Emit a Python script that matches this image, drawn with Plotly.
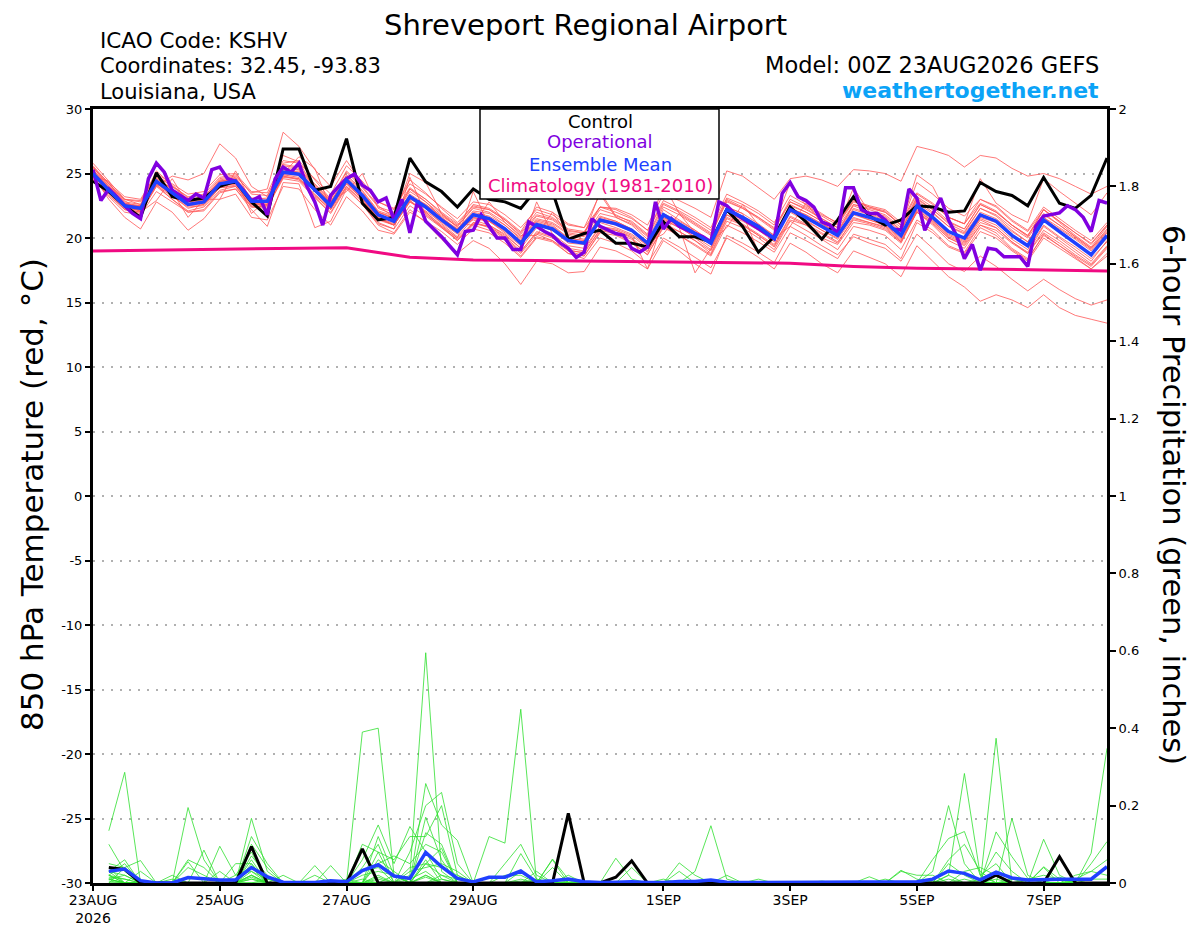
import plotly.graph_objects as go

# ---------------------------------------------------------------------------
# GEFS meteogram, KSHV, run 00Z 23AUG2026
# ---------------------------------------------------------------------------
hours_6h = list(range(0, 385, 6))        # temperature members, control, mean
hours_3h = list(range(0, 385, 3))        # operational run is 3-hourly
precip_hours = list(range(6, 385, 6))    # 6-hour totals start at +6 h
clim_hours = list(range(0, 385, 24))

x_tick_hours = [0, 48, 96, 144, 216, 264, 312, 360]
x_tick_labels = ["23AUG<br>2026", "25AUG", "27AUG", "29AUG", "1SEP", "3SEP", "5SEP", "7SEP"]
temp_ticks = [-30, -25, -20, -15, -10, -5, 0, 5, 10, 15, 20, 25, 30]
temp_tick_labels = ["-30", "-25", "-20", "-15", "-10", "-5", "0", "5", "10", "15", "20", "25", "30"]
precip_ticks = [0, 0.2, 0.4, 0.6, 0.8, 1.0, 1.2, 1.4, 1.6, 1.8, 2.0]
precip_tick_labels = ["0", "0.2", "0.4", "0.6", "0.8", "1", "1.2", "1.4", "1.6", "1.8", "2"]

# 850 hPa temperature (C)
control_temp = [24.4, 23.6, 22.5, 21.6, 25.05, 23.2, 22.9, 23.1, 24.0, 24.4, 22.8, 21.7,
                26.9, 26.9, 23.7, 24.0, 27.7, 22.7, 21.4, 21.6, 26.2, 24.35, 23.6, 22.4,
                23.8, 23.0, 22.8, 22.3, 23.8, 23.6, 19.9, 20.35, 20.6, 19.6, 19.6, 19.3,
                21.25, 20.1, 20.1, 19.7, 22.2, 20.9, 18.9, 20.1, 22.4, 21.25, 19.9, 21.4,
                23.2, 21.7, 21.0, 21.4, 22.5, 22.4, 22.0, 22.1, 24.3, 23.6, 23.3, 22.5,
                24.7, 22.7, 22.3, 23.3, 26.2]
mean_temp = [25.0, 23.7, 22.5, 22.3, 24.4, 23.5, 22.6, 22.8, 24.2, 24.4, 22.85, 22.85,
             25.1, 24.95, 23.7, 22.5, 24.5, 23.3, 21.8, 21.3, 23.2, 22.4, 21.4, 20.5,
             21.8, 21.5, 20.7, 19.6, 21.05, 20.7, 19.8, 19.6, 21.4, 21.1, 20.6, 19.6,
             21.8, 21.1, 20.35, 19.6, 22.2, 21.6, 20.9, 19.96, 22.2, 21.6, 20.9, 20.2,
             21.95, 21.6, 21.25, 20.2, 22.5, 21.6, 20.5, 20.0, 21.8, 21.3, 20.2, 19.4,
             21.4, 20.5, 19.6, 18.7, 20.2]
oper_temp = [25.3, 22.9, 23.8, 23.2, 22.5, 21.9, 21.5, 24.6,
             25.8, 25.1, 23.7, 23.3, 22.9, 23.4, 23.1, 25.3,
             25.5, 24.6, 24.4, 23.7, 22.9, 23.2, 21.8, 24.6,
             25.5, 25.1, 25.8, 24.0, 22.8, 21.0, 23.3, 24.0,
             24.6, 24.95, 24.1, 23.7, 22.8, 23.1, 21.4, 23.0,
             20.4, 22.9, 21.3, 20.7, 20.1, 19.4, 18.7, 20.5,
             20.6, 21.8, 20.9, 20.0, 20.0, 19.1, 19.1, 21.25,
             20.9, 20.5, 20.2, 19.6, 19.2, 18.5, 18.9, 21.5,
             20.9, 20.6, 20.35, 20.2, 19.2, 18.9, 19.3, 22.8,
             20.7, 21.5, 20.9, 20.6, 20.35, 20.1, 19.7, 22.8,
             22.5, 21.9, 21.5, 21.1, 20.7, 20.35, 19.96, 23.45,
             24.3, 23.2, 22.9, 22.4, 21.25, 21.0, 20.35, 23.9,
             23.9, 22.2, 21.9, 21.9, 21.4, 20.7, 20.6, 23.8,
             23.1, 20.6, 21.9, 23.1, 21.4, 20.2, 18.4, 19.5,
             17.5, 19.2, 19.1, 18.55, 18.55, 18.55, 17.8, 20.9,
             21.7, 21.85, 21.95, 22.5, 22.2, 21.6, 20.5, 22.9,
             22.7]
clim_temp = [19.0, 19.05, 19.1, 19.15, 19.25, 18.5, 18.3, 18.25, 18.2,
             18.15, 18.1, 18.05, 17.8, 17.65, 17.6, 17.55, 17.45]

# ensemble members, 850 hPa temperature
t_m01 = [25.6, 24.2, 22.9, 22.0, 24.0, 24.8, 24.5, 25.0, 27.3, 26.2, 24.0, 23.2, 25.8,
         26.0, 24.5, 23.0, 25.2, 24.0, 22.5, 21.6, 23.8, 23.0, 21.9, 20.8, 21.4, 21.0,
         20.2, 19.2, 20.8, 20.2, 19.0, 18.6, 20.5, 20.6, 20.0, 19.0, 21.0, 20.5, 19.8,
         18.8, 21.5, 21.0, 20.2, 19.3, 21.4, 21.0, 20.0, 19.5, 21.2, 21.0, 20.6, 19.6,
         22.0, 21.2, 20.0, 19.4, 21.0, 20.6, 19.6, 18.8, 20.6, 19.8, 18.9, 18.0, 19.4]
t_m02 = [25.2, 24.0, 23.0, 22.8, 24.8, 24.0, 23.0, 23.2, 24.6, 24.8, 23.5, 23.8, 28.2,
         27.1, 25.3, 24.0, 26.0, 24.2, 22.8, 22.2, 24.5, 23.5, 22.3, 21.2, 22.5, 22.2,
         21.4, 20.3, 21.8, 21.5, 20.6, 20.4, 22.2, 21.8, 21.2, 20.2, 22.6, 22.0, 21.2,
         20.4, 23.0, 22.4, 21.6, 20.8, 22.8, 22.2, 21.5, 20.8, 22.6, 22.2, 21.8, 20.8,
         23.2, 22.4, 21.3, 20.7, 22.6, 22.0, 21.0, 20.2, 22.2, 21.3, 20.4, 19.5, 21.0]
t_m03 = [24.8, 23.0, 21.6, 20.7, 22.8, 22.0, 20.6, 21.5, 23.0, 23.4, 21.6, 21.4, 24.0,
         23.8, 22.2, 21.0, 23.2, 22.1, 20.6, 20.3, 22.0, 21.3, 20.5, 19.5, 20.7, 20.4,
         19.6, 18.5, 20.0, 19.7, 18.8, 18.6, 20.4, 20.2, 19.6, 18.7, 20.9, 20.2, 19.5,
         18.7, 21.3, 20.8, 20.0, 19.1, 21.3, 20.6, 19.9, 19.1, 20.9, 20.6, 20.2, 19.1,
         21.4, 20.6, 19.4, 18.9, 20.8, 20.2, 19.1, 18.3, 20.3, 19.4, 18.6, 17.8, 19.2]
t_m04 = [25.3, 24.1, 22.8, 22.6, 24.7, 23.8, 22.9, 23.0, 24.5, 24.7, 23.1, 23.0, 25.6,
         25.4, 24.0, 22.8, 24.9, 23.7, 22.1, 21.7, 23.6, 22.8, 21.8, 20.9, 22.3, 22.0,
         21.2, 20.1, 21.7, 21.4, 20.5, 20.4, 22.4, 22.3, 21.8, 21.0, 23.4, 22.9, 22.3,
         21.6, 25.2, 24.8, 23.9, 23.0, 24.6, 24.8, 24.5, 24.0, 25.3, 25.2, 25.0, 24.4,
         27.1, 26.8, 26.4, 25.5, 26.4, 26.2, 25.4, 24.8, 25.0, 24.6, 24.0, 23.4, 24.0]
t_m05 = [24.9, 23.5, 22.3, 22.0, 24.1, 23.2, 22.4, 22.5, 23.9, 24.1, 22.6, 22.5, 24.7,
         24.6, 23.3, 22.2, 24.0, 22.9, 21.4, 21.0, 22.8, 22.0, 21.0, 20.0, 21.2, 20.8,
         19.9, 18.8, 20.3, 19.8, 18.8, 18.4, 20.0, 19.6, 19.0, 18.0, 20.0, 19.3, 18.5,
         17.7, 20.0, 19.3, 18.5, 17.6, 19.6, 18.9, 18.0, 17.3, 19.0, 18.5, 18.0, 17.0,
         19.4, 18.2, 17.0, 16.2, 15.1, 15.6, 15.2, 14.6, 15.6, 14.6, 14.0, 13.7, 13.4]
t_m06 = [25.1, 23.9, 22.7, 22.4, 24.3, 23.3, 22.3, 22.6, 24.0, 24.2, 22.7, 22.7, 24.8,
         24.6, 23.4, 22.3, 24.2, 23.0, 21.5, 21.0, 22.9, 22.0, 20.9, 19.8, 21.0, 20.6,
         19.8, 18.6, 20.1, 19.8, 19.0, 18.9, 20.6, 20.3, 19.7, 18.7, 20.8, 20.2, 19.4,
         18.6, 21.0, 20.4, 19.7, 18.9, 20.9, 20.2, 19.4, 18.7, 20.1, 19.6, 19.2, 18.2,
         20.3, 19.2, 18.0, 17.4, 18.6, 17.8, 16.8, 15.9, 16.8, 16.0, 15.3, 14.8, 15.2]
t_m07 = [25.5, 24.0, 22.6, 22.4, 24.6, 23.8, 22.9, 23.2, 24.4, 24.6, 23.0, 23.1, 25.3,
         25.1, 23.9, 22.8, 24.8, 23.6, 22.0, 21.5, 23.4, 22.6, 21.6, 20.7, 22.0, 21.7,
         21.0, 19.9, 21.4, 21.1, 20.3, 20.1, 21.9, 21.6, 21.1, 20.1, 22.4, 21.8, 21.0,
         20.2, 22.9, 22.3, 21.6, 20.7, 23.0, 22.4, 21.7, 21.0, 22.8, 22.4, 22.0, 21.0,
         23.4, 22.6, 21.6, 21.1, 24.6, 22.7, 21.8, 21.2, 24.6, 23.6, 22.7, 21.8, 23.5]
t_m08 = [24.7, 23.4, 22.2, 21.9, 24.0, 23.0, 22.0, 22.2, 23.6, 23.8, 22.4, 22.3, 24.8,
         24.5, 23.2, 22.0, 24.0, 22.8, 21.2, 20.7, 24.7, 21.8, 20.9, 20.0, 23.6, 21.0,
         20.3, 19.2, 22.8, 20.3, 19.4, 19.2, 20.9, 20.7, 20.2, 19.2, 21.4, 20.8, 20.1,
         19.3, 21.8, 21.3, 20.6, 19.7, 22.3, 21.8, 21.1, 20.4, 22.6, 22.3, 22.0, 21.0,
         24.3, 23.4, 22.3, 21.7, 23.0, 22.4, 21.3, 20.5, 22.2, 21.3, 20.4, 19.6, 21.0]
t_m09 = [25.0, 23.6, 22.4, 22.1, 24.2, 23.3, 22.5, 22.6, 23.9, 24.0, 22.5, 22.4, 24.6,
         24.4, 23.1, 21.9, 23.9, 22.6, 21.0, 20.4, 22.2, 21.2, 19.9, 18.8, 19.8, 19.2,
         18.0, 16.4, 18.2, 18.0, 17.3, 17.4, 19.3, 19.0, 18.4, 17.6, 19.8, 19.0, 18.0,
         17.2, 20.2, 19.6, 18.9, 18.1, 20.4, 19.8, 19.1, 18.4, 20.3, 19.9, 19.5, 18.4,
         21.2, 20.4, 19.3, 18.8, 20.5, 20.0, 19.0, 18.2, 20.0, 19.2, 18.4, 17.6, 18.8]
t_m10 = [25.4, 24.3, 23.2, 23.0, 25.0, 24.2, 23.4, 23.6, 24.9, 25.0, 23.6, 23.5, 26.0,
         25.8, 24.6, 23.4, 25.6, 24.4, 22.8, 22.3, 24.2, 23.4, 22.4, 21.5, 22.8, 22.6,
         21.8, 20.8, 22.2, 21.8, 21.0, 20.8, 22.4, 22.0, 21.5, 20.6, 22.7, 22.1, 21.4,
         20.6, 23.1, 22.6, 21.9, 21.0, 24.3, 22.5, 21.8, 21.2, 22.9, 22.5, 22.2, 21.2,
         23.5, 22.7, 21.6, 21.1, 23.0, 22.5, 21.4, 20.6, 22.4, 21.5, 20.6, 19.8, 21.2]
t_m11 = [24.6, 23.2, 22.0, 21.8, 23.6, 22.8, 22.0, 22.1, 23.5, 23.8, 22.2, 20.9, 24.3,
         24.2, 20.8, 21.3, 23.8, 22.6, 21.1, 20.7, 22.5, 21.7, 20.8, 19.9, 21.1, 20.9,
         20.1, 19.0, 20.4, 20.0, 19.1, 18.8, 20.7, 20.4, 19.9, 18.9, 21.2, 20.5, 19.8,
         19.0, 21.6, 21.1, 20.3, 19.5, 21.7, 21.1, 20.4, 19.7, 21.4, 21.1, 20.7, 19.7,
         22.0, 21.1, 20.0, 19.5, 21.2, 20.8, 19.7, 18.9, 20.9, 20.0, 19.1, 18.2, 19.8]
t_m12 = [25.8, 24.4, 23.0, 22.6, 25.2, 24.1, 23.1, 23.0, 24.4, 24.5, 22.9, 22.8, 25.1,
         25.2, 24.0, 22.7, 24.6, 23.3, 21.7, 21.2, 23.0, 22.4, 21.5, 20.7, 22.1, 21.9,
         21.0, 20.0, 21.5, 21.2, 20.4, 20.2, 23.6, 21.7, 21.3, 20.3, 24.2, 21.9, 21.1,
         20.3, 22.8, 22.3, 21.5, 20.6, 22.8, 22.3, 21.5, 20.8, 23.9, 22.0, 21.7, 20.6,
         22.9, 22.0, 20.9, 20.4, 22.3, 21.8, 20.8, 20.0, 21.8, 21.0, 20.1, 19.2, 20.6]
t_m13 = [24.5, 23.3, 22.2, 22.0, 22.9, 24.6, 22.6, 23.0, 23.0, 25.2, 22.8, 22.9, 25.4,
         25.3, 24.1, 22.9, 23.6, 25.0, 22.3, 21.8, 23.8, 22.8, 21.6, 20.6, 21.6, 21.3,
         20.4, 19.4, 21.0, 20.6, 19.6, 19.5, 21.2, 20.8, 20.3, 19.4, 21.6, 21.0, 20.3,
         19.5, 22.1, 21.5, 20.8, 19.9, 22.0, 21.3, 20.6, 20.0, 21.8, 21.4, 21.0, 20.0,
         22.3, 21.4, 20.3, 19.8, 21.5, 21.0, 19.9, 19.1, 21.0, 20.1, 19.3, 18.4, 19.7]
t_m14 = [25.2, 23.8, 22.4, 22.1, 24.1, 23.0, 22.1, 22.4, 23.7, 24.0, 22.4, 22.5, 24.9,
         24.7, 23.3, 22.2, 24.3, 23.1, 21.6, 21.1, 23.2, 22.6, 21.7, 20.9, 22.4, 22.2,
         21.4, 20.4, 22.0, 21.6, 20.7, 20.5, 22.4, 22.2, 21.6, 20.6, 22.9, 22.3, 21.6,
         20.8, 23.4, 22.8, 22.1, 21.2, 23.3, 22.6, 21.9, 21.1, 22.9, 22.4, 22.1, 21.0,
         24.9, 24.0, 21.6, 21.1, 22.7, 22.1, 21.0, 20.1, 22.2, 21.2, 20.2, 19.3, 20.9]
t_m15 = [24.8, 24.4, 22.3, 22.2, 24.3, 23.6, 21.6, 23.0, 24.4, 24.6, 21.9, 23.0, 25.3,
         25.0, 23.6, 22.3, 24.4, 23.1, 21.6, 21.0, 22.9, 21.9, 20.8, 19.8, 21.2, 20.9,
         20.0, 18.9, 20.5, 20.1, 19.2, 19.0, 20.9, 20.6, 20.1, 17.6, 21.5, 20.8, 17.3,
         19.2, 22.0, 21.4, 20.7, 19.8, 22.1, 21.4, 20.6, 19.9, 21.6, 21.2, 20.8, 19.7,
         22.2, 21.3, 20.1, 19.6, 21.4, 20.8, 19.7, 18.8, 20.4, 19.6, 18.7, 17.9, 19.3]
t_m16 = [25.5, 24.2, 23.0, 22.9, 24.9, 24.0, 23.2, 23.4, 24.7, 24.9, 23.4, 23.3, 25.7,
         25.5, 24.2, 23.0, 25.1, 23.9, 22.4, 22.0, 23.9, 23.0, 22.0, 21.1, 21.0, 22.8,
         21.2, 20.2, 20.2, 22.0, 20.2, 19.9, 21.6, 21.3, 20.7, 19.7, 20.3, 21.9, 20.4,
         19.7, 22.4, 21.9, 21.1, 20.2, 22.5, 22.0, 21.3, 20.5, 22.3, 21.9, 21.5, 20.5,
         23.0, 22.2, 21.1, 20.5, 22.3, 21.7, 20.6, 19.7, 21.6, 20.6, 19.6, 18.6, 20.0]
t_m17 = [24.9, 23.6, 22.5, 22.4, 24.6, 23.7, 22.6, 22.7, 24.1, 24.3, 22.8, 22.9, 25.2,
         24.9, 23.6, 22.4, 24.5, 23.4, 22.0, 21.6, 25.0, 24.3, 21.9, 21.0, 22.6, 22.3,
         21.5, 20.5, 22.4, 22.0, 21.1, 20.8, 23.4, 21.6, 21.0, 19.9, 22.2, 21.4, 20.6,
         19.7, 22.3, 21.7, 21.0, 20.2, 22.6, 22.0, 21.3, 20.6, 22.5, 22.0, 21.6, 20.6,
         23.1, 22.2, 21.2, 20.7, 22.6, 22.0, 21.0, 20.2, 21.9, 21.0, 20.1, 19.2, 20.7]
t_m18 = [25.3, 23.9, 22.7, 22.5, 24.4, 23.4, 22.5, 22.8, 24.3, 24.5, 23.0, 22.8, 25.0,
         26.3, 25.4, 22.3, 24.2, 23.0, 21.5, 21.0, 22.8, 22.1, 21.2, 20.3, 21.6, 21.3,
         20.5, 19.6, 21.0, 20.6, 19.8, 19.7, 21.5, 21.2, 20.6, 19.6, 21.6, 20.9, 20.0,
         19.1, 21.8, 21.0, 20.2, 19.4, 21.6, 21.0, 20.3, 19.6, 21.5, 21.2, 20.9, 19.8,
         22.0, 21.0, 19.8, 19.2, 21.0, 20.4, 19.2, 18.4, 20.2, 19.4, 18.5, 17.6, 18.6]
t_m19 = [25.1, 23.8, 22.6, 22.3, 24.5, 23.6, 22.7, 22.9, 24.3, 24.4, 22.7, 22.6, 24.9,
         24.9, 23.8, 22.7, 24.7, 23.5, 22.0, 21.5, 23.3, 22.3, 21.1, 20.1, 21.5, 21.3,
         20.6, 19.6, 21.2, 20.9, 20.0, 19.8, 21.7, 21.3, 20.7, 19.6, 21.8, 21.2, 20.5,
         19.7, 20.8, 22.6, 21.0, 20.0, 20.9, 22.7, 21.2, 20.3, 21.9, 21.4, 21.0, 19.9,
         22.1, 21.3, 20.2, 19.7, 21.6, 21.2, 20.2, 19.4, 21.4, 20.7, 19.9, 19.0, 20.4]
t_m20 = [24.7, 23.7, 22.6, 22.5, 24.2, 23.5, 22.8, 22.9, 24.1, 24.2, 22.6, 22.6, 26.4,
         25.9, 23.8, 22.6, 24.6, 23.3, 21.8, 21.4, 23.1, 22.3, 21.3, 20.4, 21.9, 21.6,
         20.8, 19.8, 21.3, 21.0, 20.0, 19.8, 21.3, 21.0, 20.5, 19.4, 21.9, 21.3, 20.6,
         19.8, 22.4, 21.9, 18.9, 20.3, 22.3, 21.8, 21.1, 20.3, 22.2, 21.8, 21.4, 20.3,
         22.7, 21.9, 20.9, 20.3, 22.0, 21.5, 20.5, 19.7, 21.6, 20.8, 20.0, 19.1, 20.5]

# 6-hour precipitation (inches), +6 h .. +384 h
control_precip = [0.04, 0.035, 0, 0, 0, 0, 0, 0,
                  0, 0.094, 0, 0, 0, 0, 0, 0,
                  0.088, 0, 0, 0, 0, 0, 0, 0,
                  0, 0, 0, 0, 0, 0.18, 0, 0,
                  0.015, 0.057, 0, 0, 0, 0, 0, 0,
                  0, 0, 0, 0, 0, 0, 0, 0,
                  0, 0, 0, 0, 0, 0, 0, 0,
                  0.02, 0, 0, 0, 0.068, 0, 0, 0]
mean_precip = [0.03, 0.036, 0.006, 0, 0, 0.014, 0.011, 0.008,
               0.008, 0.04, 0.016, 0.002, 0.001, 0.001, 0.006, 0.003,
               0.032, 0.047, 0.018, 0.012, 0.079, 0.042, 0.012, 0.003,
               0.015, 0.015, 0.031, 0.003, 0.006, 0.01, 0.003, 0.001,
               0.002, 0.003, 0.001, 0.001, 0.004, 0.004, 0.008, 0.002,
               0.001, 0.001, 0.001, 0.001, 0.001, 0.001, 0.001, 0.001,
               0.002, 0.002, 0.003, 0.003, 0.01, 0.031, 0.025, 0.008,
               0.028, 0.013, 0.008, 0.01, 0.01, 0.01, 0.01, 0.042]

p_m01 = [0.135, 0.286, 0, 0, 0, 0, 0, 0,
         0, 0.02, 0, 0, 0, 0, 0, 0,
         0, 0, 0, 0, 0.05, 0.02, 0, 0,
         0, 0, 0, 0, 0, 0, 0, 0,
         0, 0, 0, 0, 0, 0, 0, 0,
         0, 0, 0, 0, 0, 0, 0, 0,
         0, 0, 0, 0, 0, 0.01, 0, 0,
         0, 0, 0, 0, 0, 0, 0, 0]
p_m02 = [0.10, 0.03, 0, 0, 0, 0.195, 0.06, 0,
         0, 0.167, 0.03, 0, 0, 0, 0, 0,
         0.39, 0.40, 0.02, 0, 0, 0, 0, 0,
         0, 0, 0.01, 0, 0, 0, 0, 0,
         0, 0, 0, 0, 0, 0, 0, 0,
         0, 0, 0, 0, 0, 0, 0, 0,
         0, 0, 0, 0, 0, 0, 0, 0,
         0, 0, 0, 0, 0, 0, 0, 0]
p_m03 = [0.05, 0.04, 0.058, 0, 0, 0.06, 0.04, 0,
         0, 0.12, 0.05, 0, 0, 0, 0, 0,
         0, 0, 0, 0.02, 0.595, 0.03, 0, 0,
         0, 0, 0, 0, 0, 0, 0, 0,
         0, 0, 0, 0, 0, 0, 0, 0.02,
         0, 0, 0, 0, 0, 0, 0, 0,
         0, 0, 0, 0, 0, 0, 0, 0,
         0, 0, 0, 0, 0, 0, 0, 0]
p_m04 = [0.03, 0.06, 0, 0, 0, 0, 0, 0.095,
         0.02, 0.08, 0, 0, 0, 0, 0, 0,
         0.06, 0.15, 0.05, 0.146, 0.08, 0.01, 0, 0,
         0.12, 0.103, 0.449, 0, 0, 0, 0, 0,
         0, 0, 0, 0, 0, 0, 0, 0,
         0, 0, 0, 0, 0, 0, 0, 0,
         0, 0, 0, 0, 0, 0, 0, 0,
         0, 0, 0, 0, 0, 0, 0, 0]
p_m05 = [0, 0, 0, 0, 0, 0, 0.085, 0,
         0, 0.10, 0.04, 0, 0, 0, 0, 0,
         0, 0.12, 0.02, 0, 0.257, 0.15, 0.11, 0,
         0, 0, 0, 0, 0.06, 0, 0, 0,
         0, 0, 0, 0, 0, 0, 0, 0,
         0, 0, 0, 0, 0, 0, 0, 0,
         0, 0, 0, 0, 0.03, 0.2, 0.05, 0,
         0, 0, 0, 0, 0, 0, 0, 0]
p_m06 = [0, 0.04, 0, 0, 0.02, 0, 0, 0,
         0, 0.06, 0, 0.02, 0, 0, 0, 0,
         0.04, 0.10, 0, 0.08, 0.20, 0.234, 0.05, 0,
         0, 0, 0, 0, 0.04, 0, 0, 0,
         0, 0, 0, 0, 0, 0, 0, 0,
         0, 0, 0, 0, 0, 0, 0, 0,
         0, 0, 0, 0, 0, 0.02, 0.283, 0.02,
         0.05, 0, 0, 0, 0, 0, 0, 0]
p_m07 = [0.02, 0, 0, 0, 0, 0, 0, 0,
         0.05, 0.05, 0, 0, 0, 0.045, 0, 0,
         0, 0.08, 0, 0, 0.17, 0.06, 0, 0,
         0, 0, 0, 0.03, 0, 0, 0, 0,
         0, 0, 0, 0, 0.052, 0.02, 0, 0,
         0, 0, 0, 0, 0, 0, 0, 0,
         0, 0, 0, 0, 0, 0, 0, 0,
         0.374, 0, 0, 0.04, 0, 0, 0, 0]
p_m08 = [0.04, 0, 0, 0, 0, 0, 0, 0,
         0, 0, 0, 0, 0, 0, 0.045, 0,
         0.10, 0.08, 0.06, 0.12, 0.12, 0.20, 0.02, 0,
         0, 0, 0, 0, 0, 0, 0, 0,
         0, 0, 0, 0, 0, 0.03, 0.148, 0.01,
         0, 0, 0, 0, 0, 0, 0, 0,
         0, 0, 0, 0, 0, 0, 0, 0,
         0, 0.167, 0.02, 0, 0, 0, 0.05, 0.107]
p_m09 = [0.01, 0, 0, 0, 0, 0.055, 0, 0,
         0, 0.04, 0, 0, 0, 0, 0, 0,
         0, 0.05, 0.07, 0.05, 0.10, 0.08, 0, 0,
         0, 0, 0.076, 0.01, 0, 0, 0, 0,
         0.064, 0.01, 0, 0, 0, 0, 0, 0,
         0, 0, 0, 0, 0, 0, 0, 0,
         0, 0, 0, 0, 0.061, 0.115, 0.133, 0.02,
         0, 0, 0, 0.113, 0.02, 0, 0, 0]
p_m10 = [0.02, 0.05, 0, 0, 0, 0, 0, 0,
         0, 0.07, 0.02, 0, 0, 0, 0, 0,
         0.02, 0.03, 0.02, 0, 0.13, 0.10, 0, 0,
         0, 0.05, 0.10, 0.02, 0, 0.02, 0, 0,
         0, 0.04, 0, 0, 0.03, 0, 0, 0,
         0, 0, 0, 0, 0, 0, 0, 0,
         0, 0, 0, 0, 0, 0, 0, 0,
         0.132, 0.068, 0.012, 0, 0, 0, 0.077, 0.348]
p_m11 = [0.03, 0, 0.03, 0, 0.01, 0, 0, 0.03,
         0, 0.05, 0, 0, 0, 0, 0, 0,
         0, 0, 0, 0.04, 0.05, 0.09, 0, 0,
         0, 0, 0, 0, 0.062, 0.01, 0, 0,
         0, 0, 0, 0, 0, 0, 0, 0,
         0, 0, 0, 0, 0, 0, 0, 0,
         0.016, 0, 0.033, 0.01, 0, 0.05, 0.02, 0,
         0, 0, 0, 0, 0, 0, 0, 0]
p_m12 = [0.02, 0, 0, 0, 0, 0.04, 0.02, 0,
         0, 0.03, 0.01, 0, 0, 0, 0, 0.01,
         0, 0.06, 0.03, 0, 0.05, 0.04, 0.02, 0,
         0, 0, 0, 0, 0, 0, 0, 0,
         0, 0, 0, 0, 0, 0, 0, 0,
         0, 0.01, 0, 0, 0, 0, 0, 0,
         0, 0, 0.03, 0.02, 0.02, 0, 0, 0,
         0, 0, 0, 0.042, 0.01, 0, 0, 0]
p_m13 = [0.01, 0.02, 0, 0, 0, 0, 0, 0,
         0, 0.02, 0, 0, 0, 0.02, 0, 0,
         0.03, 0.04, 0, 0, 0.06, 0, 0, 0,
         0, 0, 0.03, 0, 0, 0, 0, 0,
         0, 0, 0, 0, 0, 0, 0, 0,
         0, 0, 0, 0, 0, 0, 0, 0,
         0, 0.01, 0, 0, 0, 0, 0.03, 0.04,
         0.02, 0, 0, 0, 0, 0.02, 0.03, 0.02]
p_m14 = [0.03, 0.02, 0, 0, 0, 0, 0, 0,
         0.02, 0.03, 0, 0, 0, 0, 0, 0,
         0, 0.02, 0, 0.03, 0.04, 0.05, 0.03, 0,
         0, 0.02, 0.02, 0, 0, 0, 0, 0,
         0, 0, 0, 0, 0, 0, 0, 0,
         0, 0, 0, 0, 0, 0, 0, 0,
         0, 0, 0, 0, 0, 0, 0, 0.01,
         0.08, 0.03, 0, 0, 0.015, 0, 0, 0]
p_m15 = [0, 0, 0, 0, 0, 0, 0, 0,
         0, 0.01, 0, 0, 0, 0, 0, 0,
         0.01, 0, 0.02, 0, 0, 0.02, 0.01, 0,
         0, 0, 0, 0.01, 0, 0, 0, 0,
         0, 0, 0, 0, 0, 0, 0, 0,
         0, 0, 0, 0, 0, 0, 0, 0,
         0, 0, 0, 0, 0, 0.06, 0.10, 0.03,
         0, 0, 0, 0, 0, 0.01, 0.03, 0.06]
p_m16 = [0.01, 0, 0, 0, 0, 0, 0, 0,
         0, 0.015, 0, 0, 0, 0, 0, 0,
         0, 0, 0, 0, 0.02, 0, 0, 0,
         0, 0, 0, 0, 0, 0, 0, 0,
         0, 0, 0, 0, 0, 0, 0, 0,
         0, 0, 0, 0, 0, 0.005, 0, 0,
         0, 0, 0, 0, 0.005, 0, 0, 0,
         0, 0.01, 0, 0, 0, 0, 0, 0]
p_m17 = [0.015, 0.01, 0, 0, 0, 0, 0, 0,
         0, 0, 0.01, 0, 0, 0, 0, 0,
         0, 0.015, 0, 0, 0, 0.01, 0, 0,
         0, 0, 0, 0, 0, 0, 0, 0,
         0, 0, 0, 0.01, 0, 0, 0, 0,
         0, 0, 0, 0, 0, 0, 0, 0,
         0, 0, 0, 0, 0, 0, 0.01, 0,
         0, 0, 0, 0, 0, 0, 0, 0]
p_m18 = [0.005, 0, 0, 0, 0, 0, 0, 0,
         0, 0.01, 0, 0, 0, 0, 0, 0,
         0, 0, 0, 0.01, 0.03, 0, 0, 0,
         0, 0, 0, 0, 0, 0, 0, 0,
         0, 0, 0, 0, 0, 0, 0, 0,
         0, 0, 0, 0, 0, 0, 0, 0,
         0, 0, 0, 0, 0, 0, 0, 0,
         0, 0, 0.01, 0.02, 0.01, 0, 0, 0]
p_m19 = [0.01, 0, 0, 0, 0, 0, 0, 0,
         0, 0.02, 0, 0, 0, 0, 0, 0,
         0, 0, 0, 0, 0.015, 0, 0, 0,
         0, 0, 0.005, 0, 0, 0, 0, 0,
         0, 0, 0, 0, 0, 0, 0, 0,
         0, 0, 0, 0, 0, 0, 0, 0,
         0, 0, 0, 0, 0, 0.02, 0, 0,
         0.01, 0, 0, 0, 0, 0, 0, 0]
p_m20 = [0.02, 0.01, 0, 0, 0, 0, 0, 0,
         0, 0, 0, 0, 0, 0, 0, 0,
         0, 0.01, 0, 0, 0.02, 0, 0, 0,
         0, 0, 0, 0, 0, 0.005, 0, 0,
         0, 0, 0, 0, 0, 0, 0, 0,
         0, 0, 0, 0, 0, 0, 0, 0,
         0, 0, 0, 0, 0, 0, 0, 0,
         0, 0, 0, 0, 0, 0, 0.01, 0.01]

temp_members = [t_m01, t_m02, t_m03, t_m04, t_m05, t_m06, t_m07, t_m08, t_m09, t_m10,
                t_m11, t_m12, t_m13, t_m14, t_m15, t_m16, t_m17, t_m18, t_m19, t_m20]
precip_members = [p_m01, p_m02, p_m03, p_m04, p_m05, p_m06, p_m07, p_m08, p_m09, p_m10,
                  p_m11, p_m12, p_m13, p_m14, p_m15, p_m16, p_m17, p_m18, p_m19, p_m20]

# colours
MEMBER_RED = "#ff5757"
MEMBER_GREEN = "#2fe02f"
CONTROL_BLACK = "#000000"
OPER_PURPLE = "#8000e0"
MEAN_BLUE = "#2040ff"
CLIM_PINK = "#f00a82"
SITE_BLUE = "#0ba3f7"
FONT = "DejaVu Sans"

# The page body adds an 8 px margin around the figure, so the figure is
# made a bit smaller than the window and placed 8 px up/left of the target.
FIG_W, FIG_H = 1192, 919
PLOT_L, PLOT_R, PLOT_T, PLOT_B = 85, 1099, 101, 875   # figure pixels
SHIFT = 8


def paper_x(px):
    # px is a window pixel
    return (px - SHIFT - PLOT_L) / (PLOT_R - PLOT_L)


def paper_y(py):
    return (PLOT_B - (py - SHIFT)) / (PLOT_B - PLOT_T)


def line_trace(x, y, color, width, axis="y"):
    return go.Scatter(x=x, y=y, mode="lines", yaxis=axis, hoverinfo="skip",
                      line=dict(color=color, width=width))


fig = go.Figure()

# ensemble members first so the main lines sit on top
for member in temp_members:
    fig.add_trace(line_trace(hours_6h, member, MEMBER_RED, 0.8))
for member in precip_members:
    fig.add_trace(line_trace(precip_hours, member, MEMBER_GREEN, 0.8, "y2"))

fig.add_trace(line_trace(clim_hours, clim_temp, CLIM_PINK, 3))
fig.add_trace(line_trace(hours_6h, control_temp, CONTROL_BLACK, 3))
fig.add_trace(line_trace(precip_hours, control_precip, CONTROL_BLACK, 3, "y2"))
fig.add_trace(line_trace(hours_3h, oper_temp, OPER_PURPLE, 3.5))
fig.add_trace(line_trace(hours_6h, mean_temp, MEAN_BLUE, 3.5))
fig.add_trace(line_trace(precip_hours, mean_precip, MEAN_BLUE, 3.5, "y2"))

annotations = [
    dict(text="Shreveport Regional Airport", x=paper_x(585), y=paper_y(25),
         xanchor="center", yanchor="middle", font=dict(size=29)),
    dict(text="ICAO Code: KSHV", x=paper_x(98), y=paper_y(40),
         xanchor="left", yanchor="middle", font=dict(size=21.5)),
    dict(text="Coordinates: 32.45, -93.83", x=paper_x(98), y=paper_y(66),
         xanchor="left", yanchor="middle", font=dict(size=21)),
    dict(text="Louisiana, USA", x=paper_x(98), y=paper_y(92),
         xanchor="left", yanchor="middle", font=dict(size=21)),
    dict(text="Model: 00Z 23AUG2026 GEFS", x=paper_x(1101), y=paper_y(65),
         xanchor="right", yanchor="middle", font=dict(size=22.5)),
    dict(text="weathertogether.net", x=paper_x(1101), y=paper_y(90),
         xanchor="right", yanchor="middle",
         font=dict(size=22, color=SITE_BLUE, weight="bold")),
    # axis titles
    dict(text="850 hPa Temperature (red, °C)", x=paper_x(32), y=paper_y(495),
         xanchor="center", yanchor="middle", textangle=-90, font=dict(size=31)),
    dict(text="6-hour Precipitation (green, inches)", x=paper_x(1173), y=paper_y(495),
         xanchor="center", yanchor="middle", textangle=90, font=dict(size=30.5)),
    # legend
    dict(text="Control", x=0.5, y=paper_y(121), xanchor="center", yanchor="middle",
         font=dict(size=18, color=CONTROL_BLACK)),
    dict(text="Operational", x=0.5, y=paper_y(142), xanchor="center", yanchor="middle",
         font=dict(size=18, color=OPER_PURPLE)),
    dict(text="Ensemble Mean", x=0.5, y=paper_y(164), xanchor="center", yanchor="middle",
         font=dict(size=18, color=MEAN_BLUE)),
    dict(text="Climatology (1981-2010)", x=0.5, y=paper_y(185), xanchor="center",
         yanchor="middle", font=dict(size=18, color=CLIM_PINK)),
]
for a in annotations:
    a.update(xref="paper", yref="paper", showarrow=False)

fig.update_layout(
    width=FIG_W,
    height=FIG_H,
    margin=dict(l=PLOT_L, r=FIG_W - PLOT_R, t=PLOT_T, b=FIG_H - PLOT_B, pad=0),
    paper_bgcolor="white",
    plot_bgcolor="white",
    showlegend=False,
    font=dict(family=FONT, color="black"),
    annotations=annotations,
    shapes=[
        dict(type="rect", xref="paper", yref="paper", layer="above",
             x0=paper_x(480), x1=paper_x(719), y0=paper_y(199), y1=1,
             fillcolor="white", line=dict(color="black", width=1.5)),
    ],
    xaxis=dict(
        range=[0, 384],
        tickvals=x_tick_hours,
        ticktext=x_tick_labels,
        ticks="outside", ticklen=5, tickwidth=1.5, tickcolor="black",
        tickfont=dict(size=14), ticklabelstandoff=-3,
        showline=True, linewidth=3, linecolor="black", mirror=True,
        showgrid=False, zeroline=False, automargin=False,
    ),
    yaxis=dict(
        range=[-30, 30],
        tickvals=temp_ticks,
        ticktext=temp_tick_labels,
        ticks="outside", ticklen=5, tickwidth=1.5, tickcolor="black",
        tickfont=dict(size=13),
        showline=True, linewidth=3, linecolor="black",
        showgrid=True, gridcolor="#b0b0b0", gridwidth=1.5, griddash="2px,7px",
        zeroline=False, automargin=False,
    ),
    yaxis2=dict(
        range=[0, 2],
        overlaying="y",
        side="right",
        tickvals=precip_ticks,
        ticktext=precip_tick_labels,
        ticks="outside", ticklen=6, tickwidth=1.5, tickcolor="black",
        tickfont=dict(size=13),
        showline=True, linewidth=3, linecolor="black",
        showgrid=False, zeroline=False, automargin=False,
    ),
)

fig.write_html("out.html")
